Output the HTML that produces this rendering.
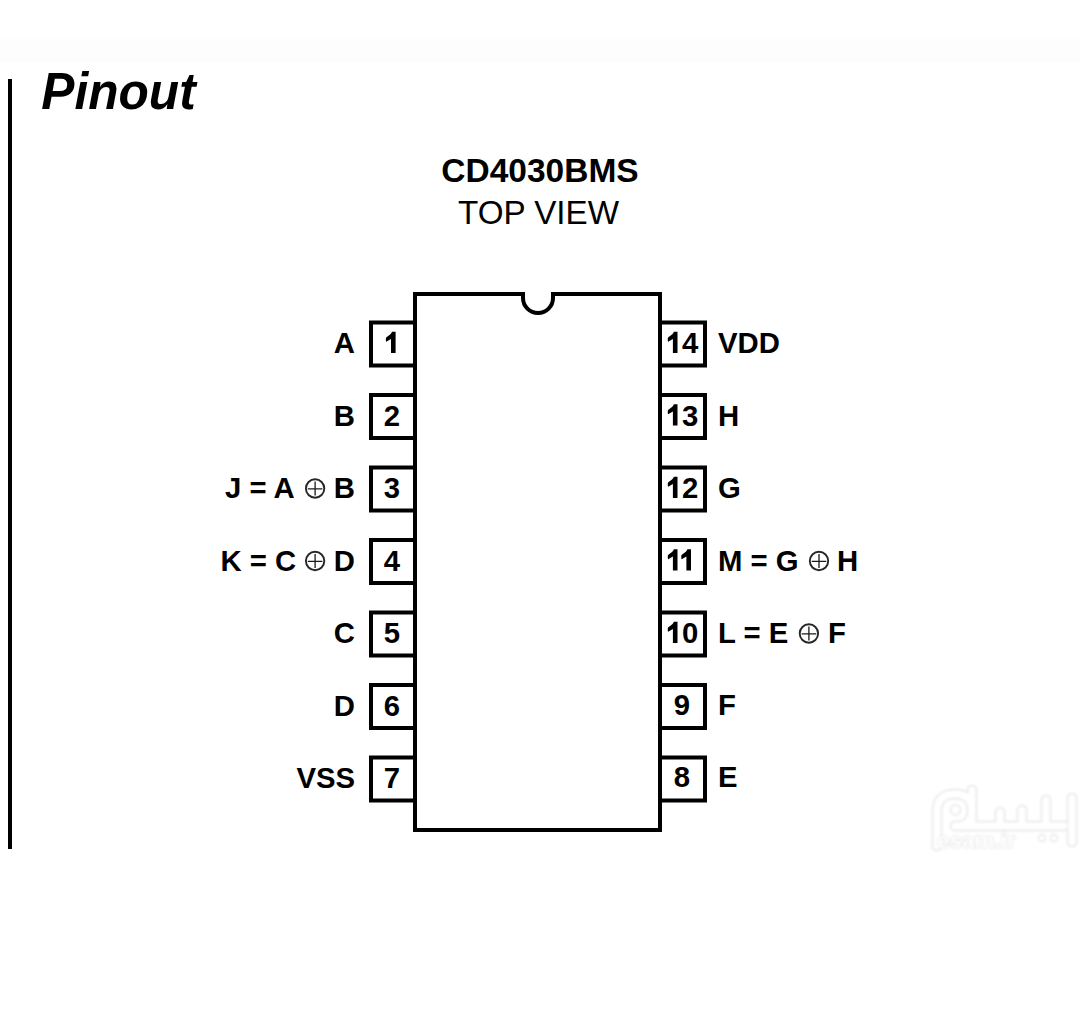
<!DOCTYPE html>
<html><head><meta charset="utf-8"><style>
html,body{margin:0;padding:0;background:#fff;width:1080px;height:1019px;overflow:hidden}
svg{display:block}
text{font-family:"Liberation Sans",sans-serif;fill:#000}
.b{font-weight:bold}
</style></head><body>
<svg width="1080" height="1019" viewBox="0 0 1080 1019">
<rect x="0" y="39" width="1080" height="23" fill="#fdfdfd"/>
<rect x="8" y="79" width="4" height="770" fill="#000"/>
<text transform="translate(41.3 109.3) scale(0.955 1)" class="b" font-style="italic" font-size="52">Pinout</text>
<text x="540" y="182" class="b" font-size="33.5" text-anchor="middle">CD4030BMS</text>
<text x="538.5" y="224" font-size="33.2" text-anchor="middle">TOP VIEW</text>

<path d="M415 294 H523 V298 A15 15 0 0 0 553 298 V294 H660 V830 H415 Z" fill="none" stroke="#000" stroke-width="4"/>
<path d="M417 322.5 H371 V365.5 H417" fill="none" stroke="#000" stroke-width="4"/>
<path d="M395.60 331.70 V353.00 H391.00 V339.00 L386.70 341.60 Q385.70 342.00 385.90 340.30 V338.30 Q386.00 337.60 386.80 337.10 L390.40 334.30 Q391.60 333.10 392.00 331.70 Z" fill="#000"/>
<path d="M658 322.5 H705 V365.5 H658" fill="none" stroke="#000" stroke-width="4"/>
<path d="M677.50 331.70 V353.00 H672.90 V339.00 L668.60 341.60 Q667.60 342.00 667.80 340.30 V338.30 Q667.90 337.60 668.70 337.10 L672.30 334.30 Q673.50 333.10 673.90 331.70 Z" fill="#000"/>
<text x="682.00" y="353.00" class="b" font-size="29.3">4</text>
<text x="355" y="353.0" class="b" font-size="29.3" text-anchor="end">A</text>
<text x="718" y="353.0" class="b" font-size="29.3">VDD</text>
<path d="M417 395.0 H371 V438.0 H417" fill="none" stroke="#000" stroke-width="4"/>
<text x="392" y="425.5" class="b" font-size="29.3" text-anchor="middle">2</text>
<path d="M658 395.0 H705 V438.0 H658" fill="none" stroke="#000" stroke-width="4"/>
<path d="M677.50 404.20 V425.50 H672.90 V411.50 L668.60 414.10 Q667.60 414.50 667.80 412.80 V410.80 Q667.90 410.10 668.70 409.60 L672.30 406.80 Q673.50 405.60 673.90 404.20 Z" fill="#000"/>
<text x="682.00" y="425.50" class="b" font-size="29.3">3</text>
<text x="355" y="425.5" class="b" font-size="29.3" text-anchor="end">B</text>
<text x="718" y="425.5" class="b" font-size="29.3">H</text>
<path d="M417 467.5 H371 V510.5 H417" fill="none" stroke="#000" stroke-width="4"/>
<text x="392" y="498.0" class="b" font-size="29.3" text-anchor="middle">3</text>
<path d="M658 467.5 H705 V510.5 H658" fill="none" stroke="#000" stroke-width="4"/>
<path d="M677.50 476.70 V498.00 H672.90 V484.00 L668.60 486.60 Q667.60 487.00 667.80 485.30 V483.30 Q667.90 482.60 668.70 482.10 L672.30 479.30 Q673.50 478.10 673.90 476.70 Z" fill="#000"/>
<text x="682.00" y="498.00" class="b" font-size="29.3">2</text>
<text x="718" y="498.0" class="b" font-size="29.3">G</text>
<path d="M417 540.0 H371 V583.0 H417" fill="none" stroke="#000" stroke-width="4"/>
<text x="392" y="570.5" class="b" font-size="29.3" text-anchor="middle">4</text>
<path d="M658 540.0 H705 V583.0 H658" fill="none" stroke="#000" stroke-width="4"/>
<path d="M677.50 549.20 V570.50 H672.90 V556.50 L668.60 559.10 Q667.60 559.50 667.80 557.80 V555.80 Q667.90 555.10 668.70 554.60 L672.30 551.80 Q673.50 550.60 673.90 549.20 Z" fill="#000"/>
<path d="M691.00 549.20 V570.50 H686.40 V556.50 L682.10 559.10 Q681.10 559.50 681.30 557.80 V555.80 Q681.40 555.10 682.20 554.60 L685.80 551.80 Q687.00 550.60 687.40 549.20 Z" fill="#000"/>
<path d="M417 612.5 H371 V655.5 H417" fill="none" stroke="#000" stroke-width="4"/>
<text x="392" y="643.0" class="b" font-size="29.3" text-anchor="middle">5</text>
<path d="M658 612.5 H705 V655.5 H658" fill="none" stroke="#000" stroke-width="4"/>
<path d="M677.50 621.70 V643.00 H672.90 V629.00 L668.60 631.60 Q667.60 632.00 667.80 630.30 V628.30 Q667.90 627.60 668.70 627.10 L672.30 624.30 Q673.50 623.10 673.90 621.70 Z" fill="#000"/>
<text x="682.00" y="643.00" class="b" font-size="29.3">0</text>
<text x="355" y="643.0" class="b" font-size="29.3" text-anchor="end">C</text>
<path d="M417 685.0 H371 V728.0 H417" fill="none" stroke="#000" stroke-width="4"/>
<text x="392" y="715.5" class="b" font-size="29.3" text-anchor="middle">6</text>
<path d="M658 685.0 H705 V728.0 H658" fill="none" stroke="#000" stroke-width="4"/>
<text x="682" y="714.7" class="b" font-size="29.3" text-anchor="middle">9</text>
<text x="355" y="715.5" class="b" font-size="29.3" text-anchor="end">D</text>
<text x="718" y="714.7" class="b" font-size="29.3">F</text>
<path d="M417 757.5 H371 V800.5 H417" fill="none" stroke="#000" stroke-width="4"/>
<text x="392" y="788.0" class="b" font-size="29.3" text-anchor="middle">7</text>
<path d="M658 757.5 H705 V800.5 H658" fill="none" stroke="#000" stroke-width="4"/>
<text x="682" y="787.2" class="b" font-size="29.3" text-anchor="middle">8</text>
<text x="355" y="788.0" class="b" font-size="29.3" text-anchor="end">VSS</text>
<text x="718" y="787.2" class="b" font-size="29.3">E</text>
<text x="225" y="498.0" class="b" font-size="29.3" xml:space="preserve">J = A</text>
<circle cx="315.1" cy="488.5" r="9.2" fill="none" stroke="#262626" stroke-width="1.9"/><path d="M307.8 488.9 H322.40000000000003 M315.1 481.5 V495.5" stroke="#1a1a1a" stroke-width="1.3"/>
<text x="355" y="498.0" class="b" font-size="29.3" text-anchor="end">B</text>
<text x="220.5" y="570.5" class="b" font-size="29.3" xml:space="preserve">K = C</text>
<circle cx="315.1" cy="561.0" r="9.2" fill="none" stroke="#262626" stroke-width="1.9"/><path d="M307.8 561.4 H322.40000000000003 M315.1 554.0 V568.0" stroke="#1a1a1a" stroke-width="1.3"/>
<text x="355" y="570.5" class="b" font-size="29.3" text-anchor="end">D</text>
<text x="718" y="570.5" class="b" font-size="29.3" xml:space="preserve">M = G</text>
<circle cx="819" cy="561.0" r="9.2" fill="none" stroke="#262626" stroke-width="1.9"/><path d="M811.7 561.4 H826.3 M819 554.0 V568.0" stroke="#1a1a1a" stroke-width="1.3"/>
<text x="837" y="570.5" class="b" font-size="29.3">H</text>
<text x="718" y="643.0" class="b" font-size="29.3" xml:space="preserve">L = E</text>
<circle cx="808.9" cy="633.5" r="9.2" fill="none" stroke="#262626" stroke-width="1.9"/><path d="M801.6 633.9 H816.1999999999999 M808.9 626.5 V640.5" stroke="#1a1a1a" stroke-width="1.3"/>
<text x="828" y="643.0" class="b" font-size="29.3">F</text>
<defs><filter id="wb" x="-10%" y="-10%" width="120%" height="120%"><feGaussianBlur stdDeviation="0.9"/></filter></defs>
<g filter="url(#wb)" fill="none" stroke-linecap="round" stroke-linejoin="round">
<path d="M937 846 V812 Q937 794 955 794 Q972 794 972 811 Q972 826 955 826 H1064 M972 826 V790 M1000 826 V812 M1022 826 V810 M1046 826 V800 M1072 798 V842" stroke="#ebebeb" stroke-width="11"/>
<path d="M937 846 V812 Q937 794 955 794 Q972 794 972 811 Q972 826 955 826 H1064 M972 826 V790 M1000 826 V812 M1022 826 V810 M1046 826 V800 M1072 798 V842" stroke="#fff" stroke-width="7"/>
<circle cx="955.5" cy="810" r="5" stroke="#e8e8e8" stroke-width="1.5" fill="#fff"/>
<circle cx="1042" cy="838" r="3.5" stroke="#e8e8e8" stroke-width="1.5" fill="#fff"/>
<circle cx="1054" cy="838" r="3.5" stroke="#e8e8e8" stroke-width="1.5" fill="#fff"/>
<text x="937" y="848" font-size="22.5" font-weight="bold" style="fill:#fff" stroke="#e6e6e6" stroke-width="1.6" paint-order="stroke">esam.ir</text>
</g>

</svg></body></html>
